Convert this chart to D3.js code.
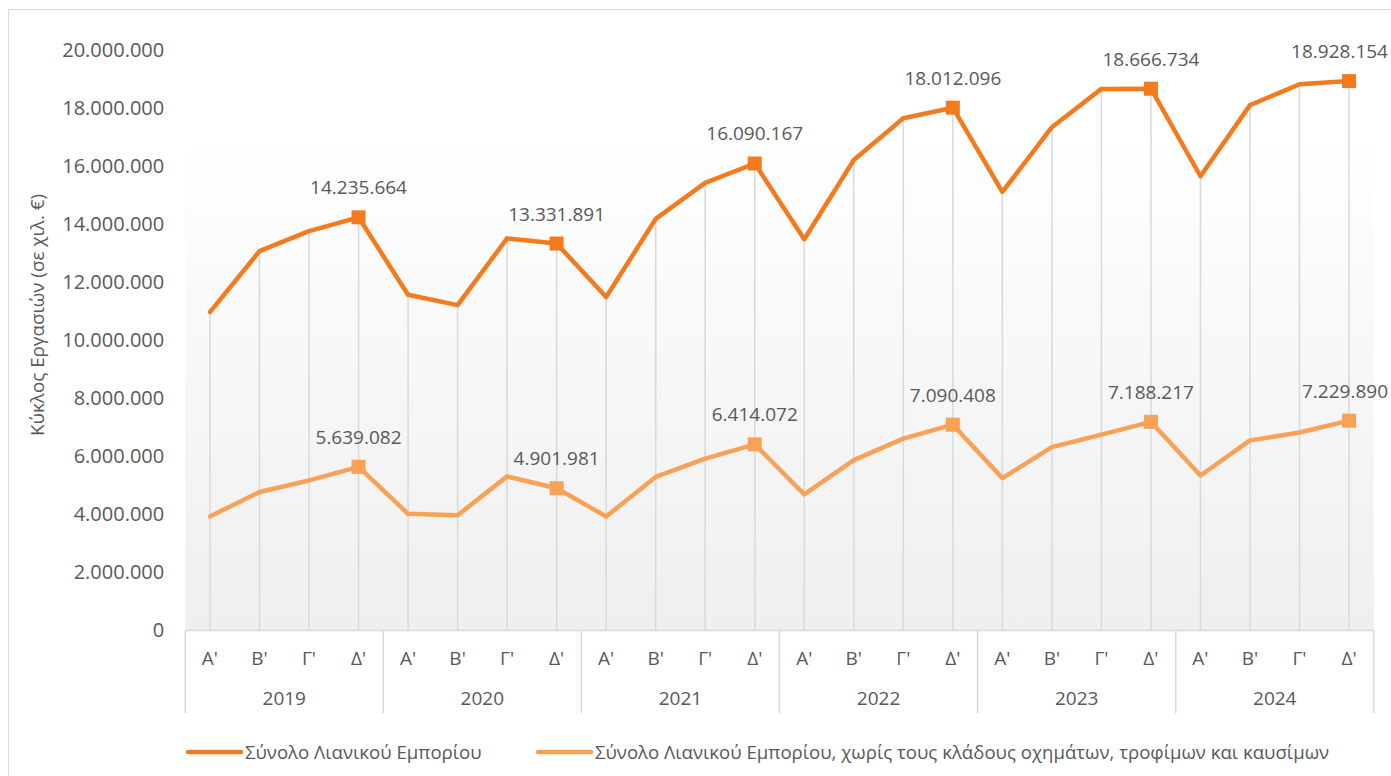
<!DOCTYPE html>
<html>
<head>
<meta charset="utf-8">
<script src="https://cdn.jsdelivr.net/npm/d3@7"></script>
<style>
  html, body { margin: 0; padding: 0; background: #ffffff; }
  svg { display: block; font-family: "Open Sans", "Noto Sans", sans-serif; }
</style>
</head>
<body>
<svg id="chart" width="1391" height="776"></svg>
<script>
// ---------------- DATA ----------------
const years = ["2019", "2020", "2021", "2022", "2023", "2024"];
const quarters = ["Α'", "Β'", "Γ'", "Δ'"];
const seriesNames = [
  "Σύνολο Λιανικού Εμπορίου",
  "Σύνολο Λιανικού Εμπορίου, χωρίς τους κλάδους οχημάτων, τροφίμων και καυσίμων"
];
const totalRetail = [
  10970000, 13070000, 13760000, 14235664,
  11570000, 11210000, 13510000, 13331891,
  11490000, 14180000, 15420000, 16090167,
  13480000, 16210000, 17650000, 18012096,
  15110000, 17340000, 18660000, 18666734,
  15650000, 18100000, 18820000, 18928154
];
const retailExcl = [
  3930000, 4770000, 5170000, 5639082,
  4020000, 3970000, 5310000, 4901981,
  3930000, 5290000, 5920000, 6414072,
  4690000, 5870000, 6610000, 7090408,
  5250000, 6320000, 6750000, 7188217,
  5340000, 6550000, 6820000, 7229890
];
const yTicks = [0, 2000000, 4000000, 6000000, 8000000, 10000000, 12000000, 14000000, 16000000, 18000000, 20000000];
const yTitle = "Κύκλος Εργασιών (σε χιλ. €)";
const colors = ["#F47A1E", "#F8A157"];

// ---------------- CHART ----------------
const svg = d3.select("#chart");
const W = 1391, H = 776;
const plot = { left: 185.2, right: 1373.8, top: 50, bottom: 630.5, bgTop: 125 };

const locale = d3.formatLocale({ decimal: ",", thousands: ".", grouping: [3], currency: ["", " €"] });
const fmt = locale.format(",");

const cats = [];
years.forEach(y => quarters.forEach(q => cats.push({ year: y, q: q, key: y + "|" + q })));

const x = d3.scaleBand().domain(cats.map(c => c.key)).range([plot.left, plot.right]).padding(0);
const cx = k => x(k) + x.bandwidth() / 2;
const y = d3.scaleLinear().domain([0, 20000000]).range([plot.bottom, plot.top]);

// outer frame
svg.append("rect").attr("x", 8.5).attr("y", 9.5).attr("width", W + 20).attr("height", H + 20)
  .attr("fill", "#ffffff").attr("stroke", "#d9d9d9").attr("stroke-width", 1);

// plot background gradient
const defs = svg.append("defs");
const grad = defs.append("linearGradient").attr("id", "bg").attr("x1", 0).attr("y1", 0).attr("x2", 0).attr("y2", 1);
grad.append("stop").attr("offset", "0%").attr("stop-color", "#ffffff");
grad.append("stop").attr("offset", "100%").attr("stop-color", "#efefef");
svg.append("rect").attr("x", plot.left).attr("y", plot.bgTop)
  .attr("width", plot.right - plot.left).attr("height", plot.bottom - plot.bgTop)
  .attr("fill", "url(#bg)");

// y axis (labels only)
const yAxis = d3.axisLeft(y).tickValues(yTicks).tickSize(0).tickPadding(21).tickFormat(fmt);
const gy = svg.append("g").attr("transform", `translate(${plot.left},0)`).call(yAxis);
gy.select(".domain").remove();
gy.selectAll("text").attr("font-size", 20).attr("fill", "#595959")
  .attr("font-family", "'Open Sans', sans-serif");

// y title
svg.append("text")
  .attr("transform", `translate(43.5,315) rotate(-90)`)
  .attr("text-anchor", "middle").attr("font-size", 18.8).attr("fill", "#595959")
  .text(yTitle);

// drop lines from upper series to axis
svg.append("g").selectAll("line").data(cats).join("line")
  .attr("x1", d => cx(d.key)).attr("x2", d => cx(d.key))
  .attr("y1", (d, i) => y(d3.max([totalRetail[i], retailExcl[i]])))
  .attr("y2", plot.bottom)
  .attr("stroke", "#d9d9d9").attr("stroke-width", 1.5);

// x axis multi-level
const axisG = svg.append("g");
axisG.append("line").attr("x1", plot.left).attr("x2", plot.right)
  .attr("y1", plot.bottom).attr("y2", plot.bottom)
  .attr("stroke", "#d9d9d9").attr("stroke-width", 1.5);
const yearBounds = years.map(yr => x(yr + "|" + quarters[0])).concat([plot.right]);
axisG.selectAll("line.sep").data(yearBounds).join("line").attr("class", "sep")
  .attr("x1", d => d).attr("x2", d => d)
  .attr("y1", plot.bottom).attr("y2", 713)
  .attr("stroke", "#d9d9d9").attr("stroke-width", 1.5);
axisG.selectAll("text.q").data(cats).join("text").attr("class", "q")
  .attr("x", d => cx(d.key)).attr("y", 665)
  .attr("text-anchor", "middle").attr("font-size", 19).attr("fill", "#595959")
  .text(d => d.q);
axisG.selectAll("text.yr").data(years).join("text").attr("class", "yr")
  .attr("x", yr => (x(yr + "|" + quarters[0]) + x(yr + "|" + quarters[3]) + x.bandwidth()) / 2)
  .attr("y", 705)
  .attr("text-anchor", "middle").attr("font-size", 19).attr("fill", "#595959")
  .text(yr => yr);

// lines
const series = [totalRetail, retailExcl];
const line = d3.line().x((d, i) => cx(cats[i].key)).y(d => y(d)).curve(d3.curveLinear);
series.forEach((s, si) => {
  svg.append("path").datum(s).attr("d", line)
    .attr("fill", "none").attr("stroke", colors[si]).attr("stroke-width", 4.5)
    .attr("stroke-linejoin", "round").attr("stroke-linecap", "round");
  const pts = s.map((v, i) => ({ v, c: cats[i] })).filter(d => d.c.q === quarters[3]);
  svg.append("g").selectAll("rect").data(pts).join("rect")
    .attr("x", d => cx(d.c.key) - 7).attr("y", d => y(d.v) - 7)
    .attr("width", 14).attr("height", 14).attr("fill", colors[si]);
  svg.append("g").selectAll("text").data(pts).join("text")
    .attr("x", d => cx(d.c.key)).attr("y", d => y(d.v) - 23)
    .attr("text-anchor", "middle").attr("font-size", 19).attr("fill", "#595959")
    .text(d => fmt(d.v))
    .each(function () {
      // keep label inside the frame (like the original, which shifts it left)
      const w = this.getComputedTextLength();
      const xc = +this.getAttribute("x");
      const maxRight = W - 3;
      if (xc + w / 2 > maxRight) this.setAttribute("x", maxRight - w / 2);
    });
});

// legend
const legendItems = [
  { x: 188, name: seriesNames[0], color: colors[0] },
  { x: 538, name: seriesNames[1], color: colors[1] }
];
const lg = svg.append("g");
legendItems.forEach(it => {
  lg.append("line").attr("x1", it.x).attr("x2", it.x + 53).attr("y1", 752).attr("y2", 752)
    .attr("stroke", it.color).attr("stroke-width", 4.5).attr("stroke-linecap", "round");
  lg.append("text").attr("x", it.x + 57).attr("y", 759).attr("font-size", 18.6)
    .attr("fill", "#595959").text(it.name);
});
</script>
</body>
</html>
